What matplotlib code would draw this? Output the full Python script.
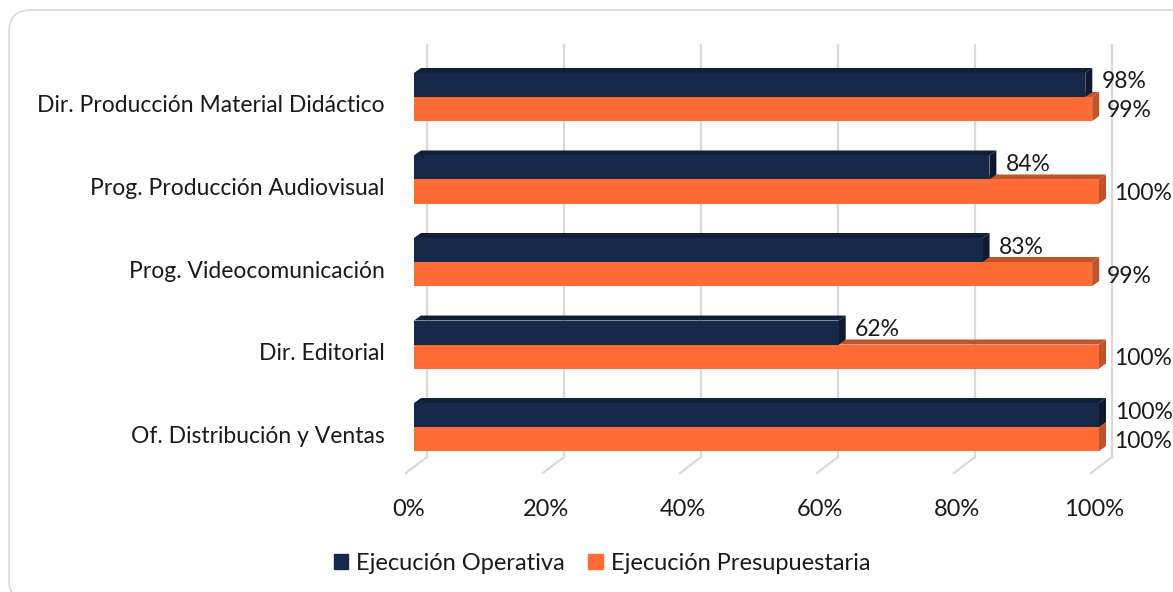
import numpy as np
import matplotlib
matplotlib.use('Agg')
import matplotlib.pyplot as plt
from matplotlib.patches import Polygon, FancyBboxPatch, Patch
from matplotlib.transforms import ScaledTranslation, blended_transform_factory

categories = ['Dir. Producción Material Didáctico', 'Prog. Producción Audiovisual',
              'Prog. Videocomunicación', 'Dir. Editorial', 'Of. Distribución y Ventas']
operativa = [98, 84, 83, 62, 100]
presupuestaria = [99, 100, 99, 100, 100]
series_names = ['Ejecución Operativa', 'Ejecución Presupuestaria']
xticks = [0, 20, 40, 60, 80, 100]

NAVY = '#17294a'
NAVY_TOP = '#111e38'
NAVY_SIDE = '#0f1a30'
ORANGE = '#ff6b35'
ORANGE_DARK = '#c0532a'
GRID = '#d9d9d9'
TXT = '#1a1a1a'

plt.rcParams['font.family'] = ['Lato', 'DejaVu Sans']

fig = plt.figure(figsize=(11.73, 5.92), dpi=100)
ax = fig.add_axes([414/1173, 1 - 473/592, 685/1173, 428/592])
ax.set_xlim(0, 100)
ax.set_ylim(4.557, -0.63)
for s in ax.spines.values():
    s.set_visible(False)

# border around the chart
fig.patches.append(FancyBboxPatch((9/100, -0.1), 11.9, 5.92,
                                  boxstyle='round,pad=0,rounding_size=0.22',
                                  transform=fig.dpi_scale_trans, fc='none',
                                  ec='#d9d9d9', lw=1.2))

# 3d gridlines: back wall + floor diagonal
def px(x, y):
    return ScaledTranslation(x/100, y/100, fig.dpi_scale_trans)

blend = blended_transform_factory(ax.transData, ax.transAxes)
floor_back = 16/428
for t in xticks:
    ax.plot([t, t], [1, floor_back], color=GRID, lw=1.6, transform=blend + px(13, 0),
            clip_on=False, zorder=0)
    # diagonal from back to front
    p_back = (blend + px(13, 0)).transform((t, floor_back))
    p_front = (blend + px(-8, 0)).transform((t, 0))
    ax.plot([p_back[0], p_front[0]], [p_back[1], p_front[1]], color=GRID, lw=1.6,
            transform=None, clip_on=False, zorder=0)

# depth of the bars in data units
o = ax.transData.transform((0, 0))
d = ax.transData.inverted().transform(o + np.array([7, 5]))
ddx, ddy = d[0], d[1]

h = 24 / 82.5
y = np.arange(len(categories))

def bar3d(vals, ypos, front, top, side, z):
    bars = ax.barh(ypos, vals, height=h, color=front, zorder=z + 0.2, lw=0)
    for b in bars:
        b.set_clip_on(False)
    for v, yc in zip(vals, ypos):
        yt = yc - h/2
        yb = yc + h/2
        ax.add_patch(Polygon([(0, yt), (ddx, yt + ddy), (v + ddx, yt + ddy), (v, yt)],
                             closed=True, fc=top, lw=0, zorder=z, clip_on=False))
        ax.add_patch(Polygon([(v, yt), (v + ddx, yt + ddy), (v + ddx, yb + ddy), (v, yb)],
                             closed=True, fc=side, lw=0, zorder=z + 0.1, clip_on=False))

bar3d(presupuestaria, y + h/2, ORANGE, ORANGE_DARK, ORANGE_DARK, 2)
bar3d(operativa, y - h/2, NAVY, NAVY_TOP, NAVY_SIDE, 3)

for v, yc in zip(operativa, y - h/2):
    ax.annotate(f'{v}%', (v, yc), xytext=(16, 3), textcoords='offset pixels',
                ha='left', va='center', fontsize=16.5, color=TXT, zorder=5)
for v, yc in zip(presupuestaria, y + h/2):
    ax.annotate(f'{v}%', (v, yc), xytext=(15, -2), textcoords='offset pixels',
                ha='left', va='center', fontsize=16.5, color=TXT, zorder=5)

ax.set_yticks(y)
ax.set_yticklabels(categories, fontsize=16.5, color=TXT)
ax.set_xticks(xticks)
ax.set_xticklabels([f'{t}%' for t in xticks], fontsize=17, color=TXT)
ax.tick_params(axis='y', length=0, pad=21)
ax.tick_params(axis='x', length=0, pad=19)
for lab in ax.get_yticklabels():
    lab.set_transform(lab.get_transform() + px(0, -7))
for lab in ax.get_xticklabels():
    lab.set_transform(lab.get_transform() + px(-5, 0))

handles = [Patch(color=NAVY), Patch(color=ORANGE)]
fig.legend(handles, series_names, loc='center', bbox_to_anchor=(602/1173, 1 - 563/592),
           ncol=2, frameon=False, fontsize=17, handlelength=0.6, handleheight=0.6,
           handletextpad=0.35, columnspacing=1.0, labelcolor=TXT)

fig.savefig('out.png', dpi=100)
